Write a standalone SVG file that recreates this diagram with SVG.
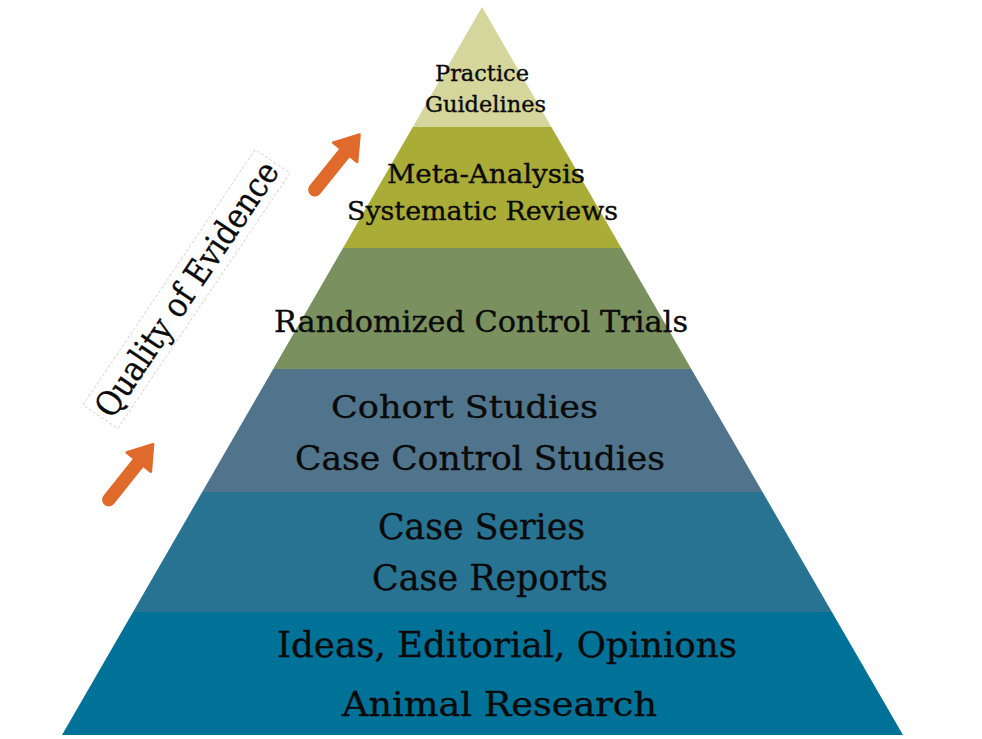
<svg xmlns="http://www.w3.org/2000/svg" xmlns:xlink="http://www.w3.org/1999/xlink" width="982" height="739" viewBox="0 0 982 739">
<style>
.lbl{font-family:"DejaVu Serif","Liberation Serif",serif;fill:#0a0a0a;stroke:#0a0a0a;stroke-width:0.35;}
.arrow{fill:#e06a2b;stroke:#e06a2b;stroke-width:2.5;stroke-linejoin:round;}
</style>
<defs>
<path id="arr" d="M3,-5.5 L51,-5.5 L51,-15.5 L74,0 L51,15.5 L51,5.5 L3,5.5 A5.5,5.5 0 0 1 3,-5.5 Z"/>
</defs>
<rect width="982" height="739" fill="#ffffff"/>
<g id="layer-practice-guidelines">
<polygon points="482,7 551.4,127 412.8,127" fill="#d5d69b"/>
<text class="lbl" x="435" y="80.5" font-size="22" textLength="94" lengthAdjust="spacingAndGlyphs">Practice</text>
<text class="lbl" x="425" y="111.5" font-size="22" textLength="121" lengthAdjust="spacingAndGlyphs">Guidelines</text>
</g>
<g id="layer-meta-analysis">
<polygon points="412.8,127 551.4,127 621.4,248 343,248" fill="#aaac38"/>
<text class="lbl" x="387" y="183" font-size="26.5" textLength="198" lengthAdjust="spacingAndGlyphs">Meta-Analysis</text>
<text class="lbl" x="347" y="220" font-size="26.5" textLength="271" lengthAdjust="spacingAndGlyphs">Systematic Reviews</text>
</g>
<g id="layer-rct">
<polygon points="343,248 621.4,248 691.3,369 273.2,369" fill="#7a905f"/>
<text class="lbl" x="274" y="332" font-size="30" textLength="414" lengthAdjust="spacingAndGlyphs">Randomized Control Trials</text>
</g>
<g id="layer-cohort">
<polygon points="273.2,369 691.3,369 762.5,492 202.2,492" fill="#50748b"/>
<text class="lbl" x="331" y="418" font-size="32.5" textLength="267" lengthAdjust="spacingAndGlyphs">Cohort Studies</text>
<text class="lbl" x="295" y="470" font-size="34" textLength="370" lengthAdjust="spacingAndGlyphs">Case Control Studies</text>
</g>
<g id="layer-case-series">
<polygon points="202.2,492 762.5,492 831.9,612 133,612" fill="#287391"/>
<text class="lbl" x="378" y="539" font-size="35" textLength="207" lengthAdjust="spacingAndGlyphs">Case Series</text>
<text class="lbl" x="372" y="590" font-size="35" textLength="236" lengthAdjust="spacingAndGlyphs">Case Reports</text>
</g>
<g id="layer-ideas">
<polygon points="133,612 831.9,612 903,735 62,735" fill="#007298"/>
<text class="lbl" x="277" y="657" font-size="36" textLength="460" lengthAdjust="spacingAndGlyphs">Ideas, Editorial, Opinions</text>
<text class="lbl" x="342" y="716" font-size="33" textLength="315" lengthAdjust="spacingAndGlyphs">Animal Research</text>
</g>
<g id="quality-label" transform="translate(186.5,289) rotate(-56)">
<rect x="-154" y="-21" width="308" height="42" fill="none" stroke="#d8d8d8" stroke-width="1" stroke-dasharray="3,2"/>
<text class="lbl" x="0" y="12" font-size="34" text-anchor="middle" textLength="300" lengthAdjust="spacingAndGlyphs">Quality of Evidence</text>
</g>
<g id="connectors">
<use xlink:href="#arr" class="arrow" transform="translate(107,502) rotate(-51.5)"/>
<use xlink:href="#arr" class="arrow" transform="translate(313,192) rotate(-51)"/>
</g>
</svg>
